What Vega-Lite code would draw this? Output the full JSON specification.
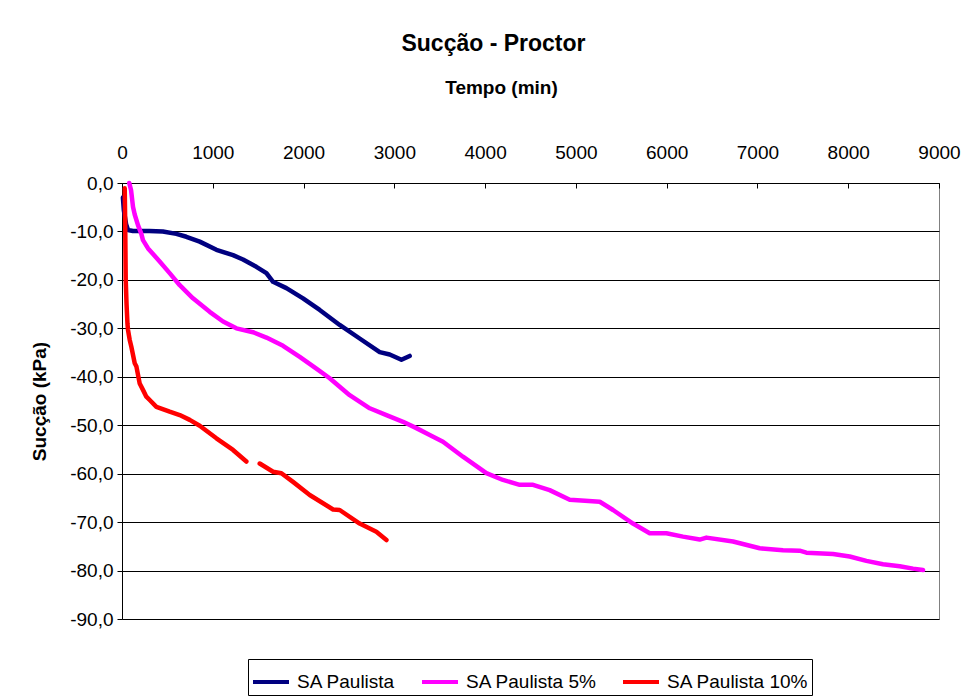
{
  "$schema": "https://vega.github.io/schema/vega-lite/v6.json",
  "autosize": {"type": "none"},
  "width": 817,
  "height": 436,
  "padding": {"left": 122, "top": 183, "right": 30, "bottom": 81},
  "background": "white",
  "title": {
    "text": "Sucção - Proctor",
    "font": "Liberation Sans",
    "fontSize": 23,
    "fontWeight": "bold",
    "color": "black",
    "anchor": "middle",
    "frame": "group",
    "dx": -37,
    "offset": 22
  },
  "data": {
    "values": [
      {"s": "SA Paulista", "g": 1, "t": 10, "v": -3},
      {"s": "SA Paulista", "g": 1, "t": 20, "v": -5.6},
      {"s": "SA Paulista", "g": 1, "t": 45, "v": -8.5},
      {"s": "SA Paulista", "g": 1, "t": 66, "v": -9.7},
      {"s": "SA Paulista", "g": 1, "t": 121, "v": -9.9},
      {"s": "SA Paulista", "g": 1, "t": 300, "v": -9.9},
      {"s": "SA Paulista", "g": 1, "t": 450, "v": -10.0},
      {"s": "SA Paulista", "g": 1, "t": 599, "v": -10.5},
      {"s": "SA Paulista", "g": 1, "t": 709, "v": -11.1},
      {"s": "SA Paulista", "g": 1, "t": 856, "v": -12.1},
      {"s": "SA Paulista", "g": 1, "t": 1040, "v": -13.8},
      {"s": "SA Paulista", "g": 1, "t": 1223, "v": -14.9},
      {"s": "SA Paulista", "g": 1, "t": 1333, "v": -15.8},
      {"s": "SA Paulista", "g": 1, "t": 1480, "v": -17.3},
      {"s": "SA Paulista", "g": 1, "t": 1591, "v": -18.6},
      {"s": "SA Paulista", "g": 1, "t": 1664, "v": -20.4},
      {"s": "SA Paulista", "g": 1, "t": 1811, "v": -21.7},
      {"s": "SA Paulista", "g": 1, "t": 1994, "v": -23.8},
      {"s": "SA Paulista", "g": 1, "t": 2178, "v": -26.2},
      {"s": "SA Paulista", "g": 1, "t": 2398, "v": -29.3},
      {"s": "SA Paulista", "g": 1, "t": 2618, "v": -32.1},
      {"s": "SA Paulista", "g": 1, "t": 2839, "v": -34.9},
      {"s": "SA Paulista", "g": 1, "t": 2949, "v": -35.4},
      {"s": "SA Paulista", "g": 1, "t": 3078, "v": -36.5},
      {"s": "SA Paulista", "g": 1, "t": 3169, "v": -35.7},

      {"s": "SA Paulista 5%", "g": 1, "t": 80, "v": 0},
      {"s": "SA Paulista 5%", "g": 1, "t": 100, "v": -1.5},
      {"s": "SA Paulista 5%", "g": 1, "t": 121, "v": -4.9},
      {"s": "SA Paulista 5%", "g": 1, "t": 140, "v": -6.5},
      {"s": "SA Paulista 5%", "g": 1, "t": 176, "v": -8.7},
      {"s": "SA Paulista 5%", "g": 1, "t": 213, "v": -10.5},
      {"s": "SA Paulista 5%", "g": 1, "t": 231, "v": -11.8},
      {"s": "SA Paulista 5%", "g": 1, "t": 287, "v": -13.5},
      {"s": "SA Paulista 5%", "g": 1, "t": 415, "v": -16.2},
      {"s": "SA Paulista 5%", "g": 1, "t": 525, "v": -18.6},
      {"s": "SA Paulista 5%", "g": 1, "t": 636, "v": -21.1},
      {"s": "SA Paulista 5%", "g": 1, "t": 782, "v": -23.8},
      {"s": "SA Paulista 5%", "g": 1, "t": 966, "v": -26.6},
      {"s": "SA Paulista 5%", "g": 1, "t": 1113, "v": -28.6},
      {"s": "SA Paulista 5%", "g": 1, "t": 1260, "v": -30.0},
      {"s": "SA Paulista 5%", "g": 1, "t": 1443, "v": -30.8},
      {"s": "SA Paulista 5%", "g": 1, "t": 1591, "v": -31.9},
      {"s": "SA Paulista 5%", "g": 1, "t": 1774, "v": -33.6},
      {"s": "SA Paulista 5%", "g": 1, "t": 1958, "v": -35.9},
      {"s": "SA Paulista 5%", "g": 1, "t": 2141, "v": -38.3},
      {"s": "SA Paulista 5%", "g": 1, "t": 2288, "v": -40.3},
      {"s": "SA Paulista 5%", "g": 1, "t": 2508, "v": -43.8},
      {"s": "SA Paulista 5%", "g": 1, "t": 2729, "v": -46.5},
      {"s": "SA Paulista 5%", "g": 1, "t": 2913, "v": -47.9},
      {"s": "SA Paulista 5%", "g": 1, "t": 3096, "v": -49.3},
      {"s": "SA Paulista 5%", "g": 1, "t": 3243, "v": -50.6},
      {"s": "SA Paulista 5%", "g": 1, "t": 3390, "v": -52.0},
      {"s": "SA Paulista 5%", "g": 1, "t": 3536, "v": -53.4},
      {"s": "SA Paulista 5%", "g": 1, "t": 3756, "v": -56.5},
      {"s": "SA Paulista 5%", "g": 1, "t": 4014, "v": -59.9},
      {"s": "SA Paulista 5%", "g": 1, "t": 4197, "v": -61.3},
      {"s": "SA Paulista 5%", "g": 1, "t": 4381, "v": -62.3},
      {"s": "SA Paulista 5%", "g": 1, "t": 4528, "v": -62.3},
      {"s": "SA Paulista 5%", "g": 1, "t": 4711, "v": -63.4},
      {"s": "SA Paulista 5%", "g": 1, "t": 4932, "v": -65.4},
      {"s": "SA Paulista 5%", "g": 1, "t": 5100, "v": -65.6},
      {"s": "SA Paulista 5%", "g": 1, "t": 5263, "v": -65.8},
      {"s": "SA Paulista 5%", "g": 1, "t": 5409, "v": -67.5},
      {"s": "SA Paulista 5%", "g": 1, "t": 5629, "v": -70.3},
      {"s": "SA Paulista 5%", "g": 1, "t": 5813, "v": -72.3},
      {"s": "SA Paulista 5%", "g": 1, "t": 5997, "v": -72.3},
      {"s": "SA Paulista 5%", "g": 1, "t": 6180, "v": -73.0},
      {"s": "SA Paulista 5%", "g": 1, "t": 6364, "v": -73.6},
      {"s": "SA Paulista 5%", "g": 1, "t": 6438, "v": -73.2},
      {"s": "SA Paulista 5%", "g": 1, "t": 6731, "v": -74.0},
      {"s": "SA Paulista 5%", "g": 1, "t": 7025, "v": -75.4},
      {"s": "SA Paulista 5%", "g": 1, "t": 7282, "v": -75.8},
      {"s": "SA Paulista 5%", "g": 1, "t": 7465, "v": -75.9},
      {"s": "SA Paulista 5%", "g": 1, "t": 7539, "v": -76.3},
      {"s": "SA Paulista 5%", "g": 1, "t": 7833, "v": -76.6},
      {"s": "SA Paulista 5%", "g": 1, "t": 8016, "v": -77.1},
      {"s": "SA Paulista 5%", "g": 1, "t": 8200, "v": -78.0},
      {"s": "SA Paulista 5%", "g": 1, "t": 8383, "v": -78.7},
      {"s": "SA Paulista 5%", "g": 1, "t": 8567, "v": -79.1},
      {"s": "SA Paulista 5%", "g": 1, "t": 8714, "v": -79.6},
      {"s": "SA Paulista 5%", "g": 1, "t": 8824, "v": -79.9},

      {"s": "SA Paulista 10%", "g": 1, "t": 30, "v": -1.1},
      {"s": "SA Paulista 10%", "g": 1, "t": 35, "v": -8},
      {"s": "SA Paulista 10%", "g": 1, "t": 38, "v": -14},
      {"s": "SA Paulista 10%", "g": 1, "t": 41, "v": -20},
      {"s": "SA Paulista 10%", "g": 1, "t": 50, "v": -25},
      {"s": "SA Paulista 10%", "g": 1, "t": 60, "v": -29},
      {"s": "SA Paulista 10%", "g": 1, "t": 66, "v": -30.3},
      {"s": "SA Paulista 10%", "g": 1, "t": 85, "v": -32.4},
      {"s": "SA Paulista 10%", "g": 1, "t": 103, "v": -33.8},
      {"s": "SA Paulista 10%", "g": 1, "t": 140, "v": -37.2},
      {"s": "SA Paulista 10%", "g": 1, "t": 159, "v": -37.9},
      {"s": "SA Paulista 10%", "g": 1, "t": 195, "v": -41.4},
      {"s": "SA Paulista 10%", "g": 1, "t": 231, "v": -42.7},
      {"s": "SA Paulista 10%", "g": 1, "t": 268, "v": -44.1},
      {"s": "SA Paulista 10%", "g": 1, "t": 305, "v": -44.8},
      {"s": "SA Paulista 10%", "g": 1, "t": 379, "v": -46.2},
      {"s": "SA Paulista 10%", "g": 1, "t": 525, "v": -47.2},
      {"s": "SA Paulista 10%", "g": 1, "t": 636, "v": -47.9},
      {"s": "SA Paulista 10%", "g": 1, "t": 746, "v": -48.9},
      {"s": "SA Paulista 10%", "g": 1, "t": 856, "v": -50.1},
      {"s": "SA Paulista 10%", "g": 1, "t": 1040, "v": -52.7},
      {"s": "SA Paulista 10%", "g": 1, "t": 1223, "v": -55.1},
      {"s": "SA Paulista 10%", "g": 1, "t": 1370, "v": -57.5},
      {"s": "SA Paulista 10%", "g": 2, "t": 1517, "v": -57.9},
      {"s": "SA Paulista 10%", "g": 2, "t": 1664, "v": -59.6},
      {"s": "SA Paulista 10%", "g": 2, "t": 1756, "v": -59.9},
      {"s": "SA Paulista 10%", "g": 2, "t": 1884, "v": -61.7},
      {"s": "SA Paulista 10%", "g": 2, "t": 2068, "v": -64.4},
      {"s": "SA Paulista 10%", "g": 2, "t": 2325, "v": -67.4},
      {"s": "SA Paulista 10%", "g": 2, "t": 2398, "v": -67.5},
      {"s": "SA Paulista 10%", "g": 2, "t": 2618, "v": -70.3},
      {"s": "SA Paulista 10%", "g": 2, "t": 2802, "v": -72.0},
      {"s": "SA Paulista 10%", "g": 2, "t": 2913, "v": -73.7}
    ]
  },
  "mark": {"type": "line", "strokeWidth": 4.5, "strokeCap": "round", "strokeJoin": "round"},
  "encoding": {
    "x": {
      "field": "t",
      "type": "quantitative",
      "scale": {"domain": [0, 9000], "nice": false},
      "axis": {
        "orient": "top",
        "title": "Tempo (min)",
        "titleX": 379,
        "titlePadding": 46,
        "values": [0, 1000, 2000, 3000, 4000, 5000, 6000, 7000, 8000, 9000],
        "format": "d",
        "grid": false,
        "labelFlush": false,
        "tickSize": -5,
        "labelPadding": 26
      }
    },
    "y": {
      "field": "v",
      "type": "quantitative",
      "scale": {"domain": [-90, 0], "nice": false},
      "axis": {
        "title": "Sucção (kPa)",
        "titlePadding": 20,
        "values": [-90, -80, -70, -60, -50, -40, -30, -20, -10, 0],
        "format": ".1f",
        "grid": true,
        "labelFlush": false,
        "tickSize": 5,
        "labelPadding": 4
      }
    },
    "color": {
      "field": "s",
      "type": "nominal",
      "scale": {
        "domain": ["SA Paulista", "SA Paulista 5%", "SA Paulista 10%"],
        "range": ["#000080", "#FF00FF", "#FF0000"]
      },
      "legend": {
        "title": null,
        "orient": "none",
        "legendX": 126,
        "legendY": 476,
        "direction": "horizontal",
        "symbolType": "stroke",
        "symbolSize": 1296,
        "symbolStrokeWidth": 4,
        "labelFontSize": 19,
        "labelFont": "Liberation Sans",
        "labelColor": "black",
        "labelOffset": 6,
        "columnPadding": 18,
        "padding": 3,
        "strokeColor": "black",
        "fillColor": "white"
      }
    },
    "detail": {"field": "g", "type": "nominal"}
  },
  "config": {
    "locale": {
      "number": {
        "decimal": ",",
        "thousands": ".",
        "grouping": [3],
        "currency": ["", ""],
        "minus": "-"
      }
    },
    "font": "Liberation Sans",
    "view": {"stroke": "#808080", "strokeWidth": 1},
    "axis": {
      "labelFont": "Liberation Sans",
      "labelFontSize": 19,
      "labelColor": "black",
      "titleFont": "Liberation Sans",
      "titleFontSize": 19,
      "titleFontWeight": "bold",
      "titleColor": "black",
      "domainColor": "black",
      "domainWidth": 1,
      "tickColor": "black",
      "tickWidth": 1,
      "gridColor": "black",
      "gridWidth": 1,
      "gridOpacity": 1
    }
  }
}
